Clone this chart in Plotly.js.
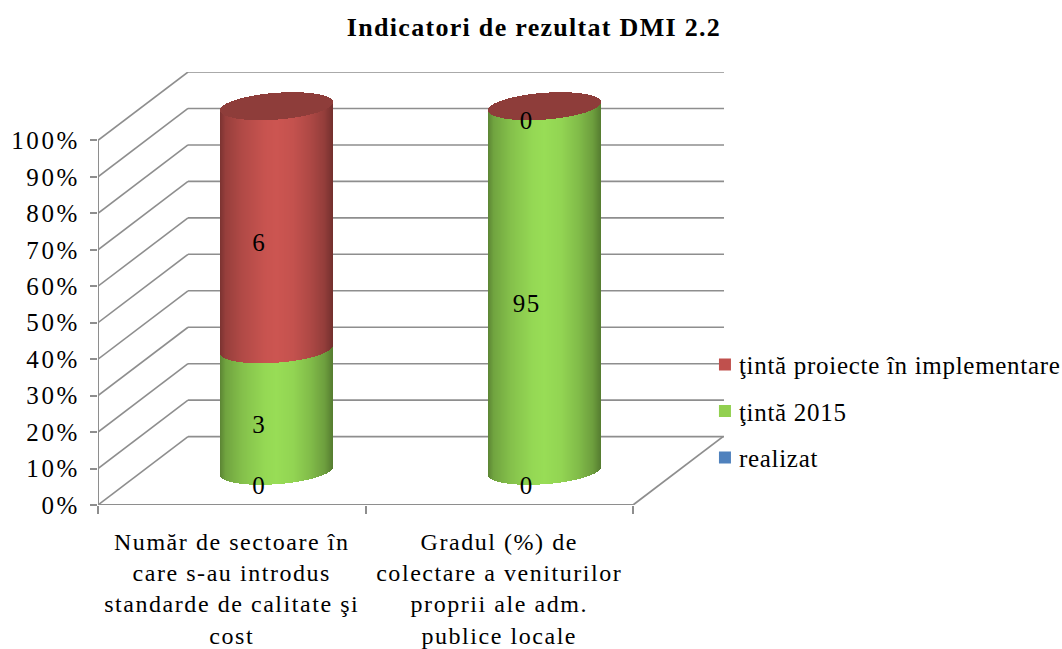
<!DOCTYPE html>
<html><head><meta charset="utf-8">
<script src="https://cdn.plot.ly/plotly-3.0.1.min.js"></script>
<style>html,body{margin:0;padding:0;background:#fff}
.legendsymbols{transform:translateX(6px)}
.ytick text{letter-spacing:2.6px}
.xtick text{letter-spacing:1.55px}
.gtitle{letter-spacing:1.3px}
.legendtext{letter-spacing:.7px}
.textpoint text{letter-spacing:1.5px}
</style></head>
<body><div id="chart" style="width:1062px;height:649px"></div>
<script>
const categories = ['Număr de sectoare în<br>care s-au introdus<br>standarde de calitate şi<br>cost','Gradul (%) de<br>colectare a veniturilor<br>proprii ale adm.<br>publice locale'];
const seriesNames = ['realizat','ţintă 2015','ţintă proiecte în implementare'];
const realizat = [0,0];
const tinta2015 = [3,95];
const tintaProiecte = [6,0];
const legendColors = ['#4f81bd','#92d050','#c0504d'];
const bodyColors = [[79,129,189],[152,221,86],[204,85,81]];
const yTicks = [0,10,20,30,40,50,60,70,80,90,100];
const FONT = '"Liberation Serif", serif';
const LINE = '#8e8e8e';

const series = [realizat,tinta2015,tintaProiecte];
const depthX = 90/267.5, depthY = 68.3/3.643, xMax = 626/267.5, yMax = 100+depthY;
const halfW = 56.5/267.5, bEll = 3.68, tilt = 1.1, N = 113;
const shadeStops = [[-1,.6],[-.9,.74],[-.6,.87],[-.2,.98],[0,1],[.3,.96],[.6,.85],[.85,.72],[1,.56]];
function shade(u){
  for(let i=1;i<shadeStops.length;i++){
    if(u<=shadeStops[i][0]){
      const a=shadeStops[i-1],b=shadeStops[i];
      return a[1]+(b[1]-a[1])*(u-a[0])/(b[0]-a[0]);
    }
  }
  return 1;
}
const slices=[]; for(let i=0;i<N;i++) slices.push((i+.5)/N*2-1);
const totals = categories.map((_,c)=>series.reduce((t,s)=>t+s[c],0));
const traces=[];
const shapes=[];
function polyline(xs,ys,width){
  xs.slice(1).forEach((x,i)=>shapes.push({type:'line',xref:'x',yref:'y',layer:'below',x0:xs[i],y0:ys[i],x1:x,y1:ys[i+1],line:{color:LINE,width:width}}));
}
// walls and floor
yTicks.forEach(v=>polyline([0,depthX,xMax],[v,v+depthY,v+depthY],1.6));
polyline([0,0],[0,100],2);
polyline([0,2,2+depthX],[0,0,depthY],1.8);

// cylinders
const stack = categories.map(()=>0);
const labX=[],labY=[],labT=[];
series.forEach((s,si)=>{
  const xs=[],bs=[],hs=[],cs=[];
  categories.forEach((_,c)=>{
    const h = s[c]/totals[c]*100, v0 = stack[c];
    slices.forEach(u=>{
      xs.push(c+.5+depthX/2+halfW*u);
      bs.push(depthY/2+v0+tilt*u-bEll*Math.sqrt(1-u*u));
      hs.push(h);
      const f=shade(u),rgb=bodyColors[si];
      cs.push(`rgb(${rgb.map(k=>Math.round(k*f)).join(',')})`);
    });
    labX.push(c+.5+depthX/2-17.5/267.5);
    labY.push(v0+h/2+4.7);
    labT.push(String(s[c]));
    stack[c]=v0+h;
  });
  traces.push({type:'bar',x:xs,y:hs,base:bs,width:2*halfW/N*1.15,marker:{color:cs,line:{width:0}},hoverinfo:'skip',showlegend:false,name:seriesNames[si]});
});
// top cap, in the colour of the last series
(function(){
  const xs=[],bs=[],hs=[];
  categories.forEach((_,c)=>slices.forEach(u=>{
    const r=bEll*Math.sqrt(1-u*u);
    xs.push(c+.5+depthX/2+halfW*u); bs.push(depthY/2+stack[c]+tilt*u-r); hs.push(2*r);
  }));
  traces.push({type:'bar',x:xs,y:hs,base:bs,width:2*halfW/N*1.15,marker:{color:'#8e3d3a',line:{width:0}},hoverinfo:'skip',showlegend:false});
})();
// data labels
traces.push({type:'scatter',mode:'text',x:labX,y:labY,text:labT,textposition:'middle center',
  textfont:{family:FONT,size:25,color:'#000'},hoverinfo:'skip',showlegend:false,cliponaxis:false});
// legend keys
[2,1,0].forEach(i=>traces.push({type:'scatter',mode:'markers',x:[null],y:[null],name:seriesNames[i],legendgroup:'g'+i,
  marker:{symbol:'square',size:12,color:legendColors[i]},hoverinfo:'skip'}));

const layout={
  width:1062,height:649,paper_bgcolor:'#fff',plot_bgcolor:'#fff',
  margin:{l:98,r:338,t:72.4,b:144,autoexpand:false},
  barmode:'overlay',bargap:0,shapes:shapes,
  title:{text:'<b>Indicatori de rezultat DMI 2.2</b>',x:534/1062,xanchor:'center',y:1-27/649,yanchor:'middle',font:{family:FONT,size:26,color:'#000'}},
  xaxis:{range:[0,xMax],tickmode:'array',tickvals:[.5,1.5],ticktext:categories,tickangle:0,ticks:'',showgrid:false,zeroline:false,showline:false,
    tickfont:{family:FONT,size:24,color:'#000'},ticklabelstandoff:20,
    minor:{tickmode:'array',tickvals:[0,1,2],ticks:'outside',ticklen:8,tickwidth:2,tickcolor:LINE,showgrid:false}},
  yaxis:{range:[0,yMax],tickmode:'array',tickvals:yTicks,ticktext:yTicks.map(v=>v+'%'),ticks:'outside',ticklen:7,tickwidth:2,tickcolor:LINE,
    showgrid:false,zeroline:false,showline:false,tickfont:{family:FONT,size:25,color:'#000'},ticklabelstandoff:5},
  legend:{x:0.96,xanchor:'left',y:(649-342-144)/432.6,yanchor:'top',traceorder:'grouped',tracegroupgap:11,itemclick:false,itemdoubleclick:false,
    font:{family:FONT,size:25,color:'#000'},bgcolor:'rgba(0,0,0,0)',borderwidth:0},
  showlegend:true
};
Plotly.newPlot('chart',traces,layout,{displayModeBar:false,staticPlot:true});
</script></body></html>
